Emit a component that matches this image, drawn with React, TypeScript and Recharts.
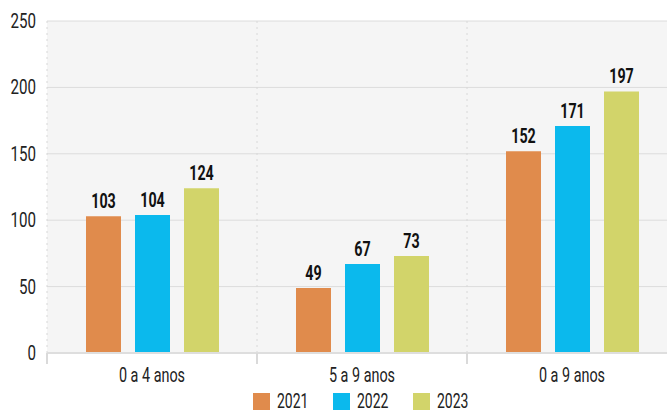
import React from "react";
import { BarChart, Bar, XAxis, YAxis, CartesianGrid, Legend, LabelList } from "recharts";

const categories = ["0 a 4 anos", "5 a 9 anos", "0 a 9 anos"];
const v2021 = [103, 49, 152];
const v2022 = [104, 67, 171];
const v2023 = [124, 73, 197];
const yTicks = [0, 50, 100, 150, 200, 250];

const SERIES = [
  { key: "2021", color: "#e08b4c" },
  { key: "2022", color: "#0bb9ed" },
  { key: "2023", color: "#d2d46a" },
];

const data = categories.map((c, i) => ({
  name: c,
  "2021": v2021[i],
  "2022": v2022[i],
  "2023": v2023[i],
}));

const FONT = "Roboto, sans-serif";

// narrow text: the source uses a condensed face, so squeeze Roboto horizontally
function NarrowText({ x, y, anchor, sx, size, weight, fill, children }: any) {
  return (
    <g transform={`translate(${x},${y}) scale(${sx},1)`}>
      <text x={0} y={0} textAnchor={anchor} fontFamily={FONT} fontSize={size} fontWeight={weight} fill={fill}>
        {children}
      </text>
    </g>
  );
}

const bounds = ({ offset }: any) => [
  offset.left,
  offset.left + offset.width / 3,
  offset.left + (2 * offset.width) / 3,
];

const YTick = ({ x, y, payload }: any) => (
  <NarrowText x={x} y={y + 7} anchor="end" sx={0.72} size={21} weight={400} fill="#222">
    {payload.value}
  </NarrowText>
);

const XTick = ({ x, y, payload, bandW }: any) => (
  <g>
    <line x1={x - bandW / 2} x2={x - bandW / 2} y1={y - 6} y2={y + 5} stroke="#dadada" strokeWidth={2} />
    <NarrowText x={x} y={y + 23} anchor="middle" sx={0.72} size={20} weight={400} fill="#222">
      {payload.value}
    </NarrowText>
  </g>
);

const BarLabel = ({ x, y, width, value }: any) => (
  <NarrowText x={x + width / 2} y={y - 8} anchor="middle" sx={0.68} size={21} weight={700} fill="#111">
    {value}
  </NarrowText>
);

const LegendContent = () => (
  <div style={{ display: "flex", justifyContent: "center", paddingLeft: 69, paddingTop: 3 }}>
    {SERIES.map((s) => (
      <svg key={s.key} width={80} height={25} style={{ display: "block" }}>
        <rect x={0} y={5} width={17} height={17} fill={s.color} />
        <NarrowText x={24} y={20} anchor="start" sx={0.7} size={20} weight={400} fill="#222">
          {s.key}
        </NarrowText>
      </svg>
    ))}
  </div>
);

export default function App() {
  return (
    <div style={{ position: "absolute", left: 0, top: 0, width: 667, height: 412, overflow: "hidden" }}>
      <BarChart
        width={667}
        height={412}
        data={data}
        margin={{ top: 21, right: -10, bottom: 0, left: 0 }}
        barSize={35}
        barGap={14}
      >
        <CartesianGrid fill="#f5f5f5" stroke="#dcdcdc" vertical={false} />
        <CartesianGrid
          stroke="#d8d8d8"
          strokeDasharray="2 4"
          horizontal={false}
          verticalCoordinatesGenerator={bounds}
        />
        <XAxis
          dataKey="name"
          height={32}
          tickLine={false}
          axisLine={{ stroke: "#dedede", strokeWidth: 2 }}
          tick={(p: any) => <XTick {...p} bandW={630 / 3} />}
          tickMargin={0}
        />
        <YAxis
          width={47}
          domain={[0, 250]}
          ticks={yTicks}
          tickLine={false}
          axisLine={false}
          tick={<YTick />}
          tickMargin={5}
        />
        <Legend verticalAlign="bottom" height={27} content={<LegendContent />} />
        {SERIES.map((s) => (
          <Bar key={s.key} dataKey={s.key} fill={s.color} isAnimationActive={false}>
            <LabelList dataKey={s.key} content={<BarLabel />} />
          </Bar>
        ))}
      </BarChart>
    </div>
  );
}
